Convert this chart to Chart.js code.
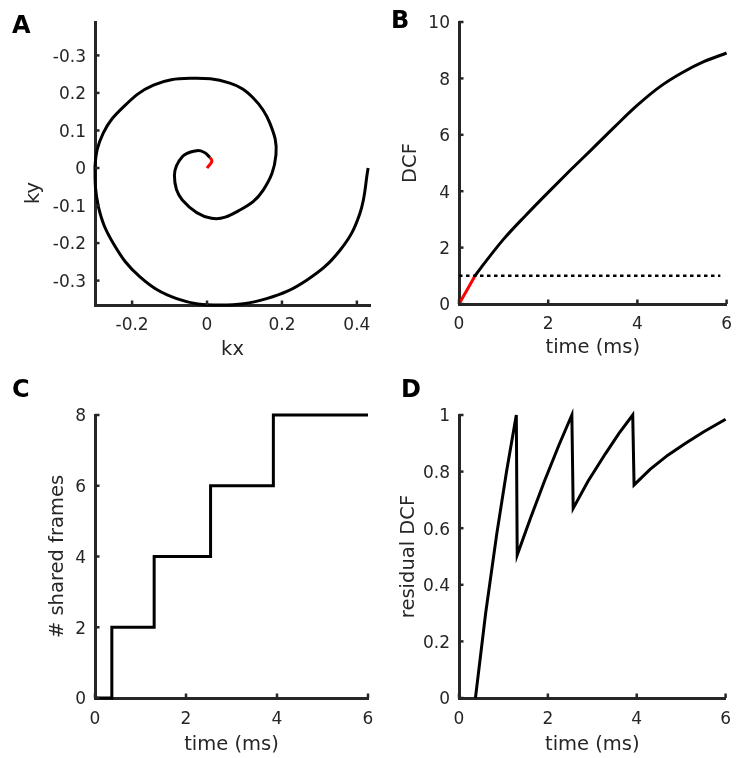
<!DOCTYPE html>
<html>
<head>
<meta charset="utf-8">
<script src="https://cdn.jsdelivr.net/npm/chart.js@4.4.1/dist/chart.umd.min.js"></script>
<style>
  html, body { margin: 0; padding: 0; background: #fff; }
  #wrap { position: relative; width: 742px; height: 758px; }
  #wrap canvas { position: absolute; left: 0; top: 0; }
</style>
</head>
<body>
<div id="wrap">
  <canvas id="panelA" width="742" height="758"></canvas>
  <canvas id="panelB" width="742" height="758"></canvas>
  <canvas id="panelC" width="742" height="758"></canvas>
  <canvas id="panelD" width="742" height="758"></canvas>
</div>
<script>
// --- A: k-space spiral (red = first part of readout) ---
const spiralRedKx = [0, 0.013, 0.008];
const spiralRedKy = [0, 0.018, 0.028];
const spiralKx = [0.008, -0.008, -0.028, -0.066, -0.087, -0.066, 0.012, 0.088, 0.150, 0.184, 0.168, 0.124, 0.061, -0.045,
  -0.143, -0.223, -0.277, -0.299, -0.290, -0.250, -0.179, -0.081, 0.035, 0.159, 0.266, 0.355, 0.408, 0.430];
const spiralKy = [0.028, 0.042, 0.046, 0.030, -0.020, -0.085, -0.134, -0.112, -0.059, 0.035, 0.119, 0.186, 0.226, 0.239,
  0.221, 0.163, 0.093, 0.004, -0.103, -0.201, -0.290, -0.348, -0.365, -0.348, -0.299, -0.219, -0.121, 0.000];
const kxTicks = [-0.2, 0, 0.2, 0.4];
const kxTickLabels = ['-0.2', '0', '0.2', '0.4'];
const kyTicks = [-0.3, -0.2, -0.1, 0, 0.1, 0.2, 0.3];
const kyTickLabels = ['-0.3', '-0.2', '-0.1', '0', '0.1', '0.2', '-0.3'];

// --- B: DCF over time ---
const dcfRedTime = [0, 0.18, 0.36];
const dcfRedValue = [0, 0.5, 1.0];
const dcfTime = [0.36, 0.5, 1.0, 1.5, 2.0, 2.5, 3.0, 3.5, 4.0, 4.5, 5.0, 5.5, 6.0];
const dcfValue = [1.0, 1.3, 2.3, 3.15, 3.96, 4.75, 5.52, 6.3, 7.05, 7.7, 8.2, 8.6, 8.9];
const thresholdTime = [0, 5.86];
const thresholdValue = [1, 1];
const dcfTicks = [0, 2, 4, 6, 8, 10];

// --- C: shared frames ---
const sharedTime = [0, 0.37, 1.30, 2.54, 3.92, 6];
const sharedFrames = [0, 2, 4, 6, 8, 8];
const sharedTicks = [0, 2, 4, 6, 8];

// --- D: residual DCF ---
const residualTime = [0.37, 0.6, 0.85, 1.07, 1.29, 1.31, 1.6, 1.92, 2.25, 2.54, 2.57, 2.9, 3.29, 3.6, 3.91, 3.94, 4.3, 4.7, 5.1, 5.5, 6.0];
const residualValue = [0, 0.30, 0.58, 0.80, 1.0, 0.505, 0.632, 0.765, 0.894, 1.0, 0.67, 0.765, 0.862, 0.935, 1.0, 0.753, 0.808, 0.858, 0.90, 0.94, 0.985];
const residualTicks = [0, 0.2, 0.4, 0.6, 0.8, 1];
const residualTickLabels = ['0', '0.2', '0.4', '0.6', '0.8', '1'];

const timeTicks = [0, 2, 4, 6];
const timeTickLabels = ['0', '2', '4', '6'];

const W = 742, H = 758;
const ink = '#262626';
const tickFont = { family: 'DejaVu Sans', size: 17 };
const labelFont = { family: 'DejaVu Sans', size: 19.5 };
const letterFont = 'bold 24px "DejaVu Sans"';

function pts(xs, ys) {
  return xs.map((x, i) => ({ x: x, y: ys[i] }));
}

// MATLAB style ticks pointing into the axes
const innerTicks = {
  id: 'innerTicks',
  afterDatasetsDraw(chart) {
    const { ctx, chartArea } = chart;
    const xs = chart.scales.x, ys = chart.scales.y;
    ctx.save();
    ctx.strokeStyle = ink;
    ctx.lineWidth = 2.5;
    xs.ticks.forEach(t => {
      const px = xs.getPixelForValue(t.value);
      ctx.beginPath();
      ctx.moveTo(px, chartArea.bottom);
      ctx.lineTo(px, chartArea.bottom - 4.5);
      ctx.stroke();
    });
    ys.ticks.forEach(t => {
      const py = ys.getPixelForValue(t.value);
      ctx.beginPath();
      ctx.moveTo(chartArea.left, py);
      ctx.lineTo(chartArea.left + 4.5, py);
      ctx.stroke();
    });
    ctx.restore();
  }
};

function textPlugin(items) {
  return {
    id: 'panelText',
    afterDraw(chart) {
      const ctx = chart.ctx;
      items.forEach(it => {
        ctx.save();
        ctx.font = it.font;
        ctx.fillStyle = it.color;
        ctx.textAlign = it.align || 'left';
        ctx.textBaseline = it.baseline || 'alphabetic';
        ctx.translate(it.x, it.y);
        ctx.rotate(it.rotate || 0);
        ctx.fillText(it.text, 0, 0);
        ctx.restore();
      });
    }
  };
}

function axis(min, max, values, labels, title, fit, pad, shift) {
  return {
    type: 'linear',
    min: min,
    max: max,
    afterBuildTicks: s => { s.ticks = values.map(v => ({ value: v })); },
    afterFit: fit,
    ticks: {
      font: tickFont,
      color: ink,
      padding: pad,
      labelOffset: shift || 0,
      maxRotation: 0,
      autoSkip: false,
      callback: (v) => {
        const i = values.findIndex(t => Math.abs(t - v) < 1e-9);
        return i >= 0 ? labels[i] : '';
      }
    },
    grid: { display: false, drawTicks: false },
    border: { display: true, color: ink, width: 3 },
    title: { display: !!title, text: title, font: labelFont, color: ink, padding: 0 }
  };
}

function makePanel(id, box, datasets, xAxis, yAxis, texts) {
  return new Chart(document.getElementById(id), {
    type: 'scatter',
    data: { datasets: datasets },
    options: {
      responsive: false,
      animation: false,
      devicePixelRatio: 1,
      events: [],
      layout: {
        padding: {
          left: box.left - box.yw,
          right: W - box.right,
          top: box.top,
          bottom: H - box.bottom - box.xh
        }
      },
      plugins: { legend: { display: false }, tooltip: { enabled: false } },
      scales: { x: xAxis, y: yAxis }
    },
    plugins: [innerTicks, textPlugin(texts)]
  });
}

function line(data, color, extra) {
  return Object.assign({
    data: data,
    showLine: true,
    borderColor: color,
    backgroundColor: color,
    borderWidth: 3,
    pointRadius: 0,
    clip: false
  }, extra || {});
}

// A
const boxA = { left: 95, right: 370, top: 22, bottom: 305, yw: 72, xh: 56.5 };
makePanel('panelA', boxA,
  [
    line(pts(spiralKx, spiralKy), '#000000', { tension: 0.4, borderJoinStyle: 'round' }),
    line(pts(spiralRedKx, spiralRedKy), '#ff0000', { tension: 0.4 })
  ],
  axis(-0.299, 0.435, kxTicks, kxTickLabels, 'kx', s => { s.height = boxA.xh; }, 10),
  axis(-0.365, 0.389, kyTicks, kyTickLabels, '', s => { s.width = boxA.yw; }, 9, 2),
  [
    { text: 'A', x: 12, y: 33, font: letterFont, color: '#000' },
    { text: 'ky', x: 34, y: 193, font: '19.5px "DejaVu Sans"', color: ink, align: 'center', baseline: 'middle', rotate: -Math.PI / 2 }
  ]);

// B
const boxB = { left: 459, right: 734, top: 22, bottom: 304, yw: 59.4, xh: 56 };
makePanel('panelB', boxB,
  [
    line(pts(thresholdTime, thresholdValue), '#000000', { borderWidth: 2.5, borderDash: [3.5, 3.5] }),
    line(pts(dcfTime, dcfValue), '#000000', { cubicInterpolationMode: 'monotone' }),
    line(pts(dcfRedTime, dcfRedValue), '#ff0000', {})
  ],
  axis(0, 6, timeTicks, timeTickLabels, 'time (ms)', s => { s.height = boxB.xh; }, 10),
  axis(0, 10, dcfTicks, ['0', '2', '4', '6', '8', '10'], 'DCF', s => { s.width = boxB.yw; }, 9, 2),
  [ { text: 'B', x: 391, y: 28, font: letterFont, color: '#000' } ]);

// C
const boxC = { left: 95, right: 368, top: 415, bottom: 698, yw: 48.7, xh: 58.5 };
makePanel('panelC', boxC,
  [
    line(pts(sharedTime, sharedFrames), '#000000', { stepped: 'before', borderJoinStyle: 'miter' })
  ],
  axis(0, 6, timeTicks, timeTickLabels, 'time (ms)', s => { s.height = boxC.xh; }, 11),
  axis(0, 8, sharedTicks, ['0', '2', '4', '6', '8'], '# shared frames', s => { s.width = boxC.yw; }, 9, 2),
  [ { text: 'C', x: 12, y: 396.5, font: letterFont, color: '#000' } ]);

// D
const boxD = { left: 459, right: 734, top: 415, bottom: 698, yw: 61.9, xh: 58.5 };
makePanel('panelD', boxD,
  [
    line(pts(residualTime, residualValue), '#000000', { borderJoinStyle: 'miter' })
  ],
  axis(0, 6, timeTicks, timeTickLabels, 'time (ms)', s => { s.height = boxD.xh; }, 11),
  axis(0, 1, residualTicks, residualTickLabels, 'residual DCF', s => { s.width = boxD.yw; }, 9, 2),
  [ { text: 'D', x: 401, y: 397, font: letterFont, color: '#000' } ]);
</script>
</body>
</html>
